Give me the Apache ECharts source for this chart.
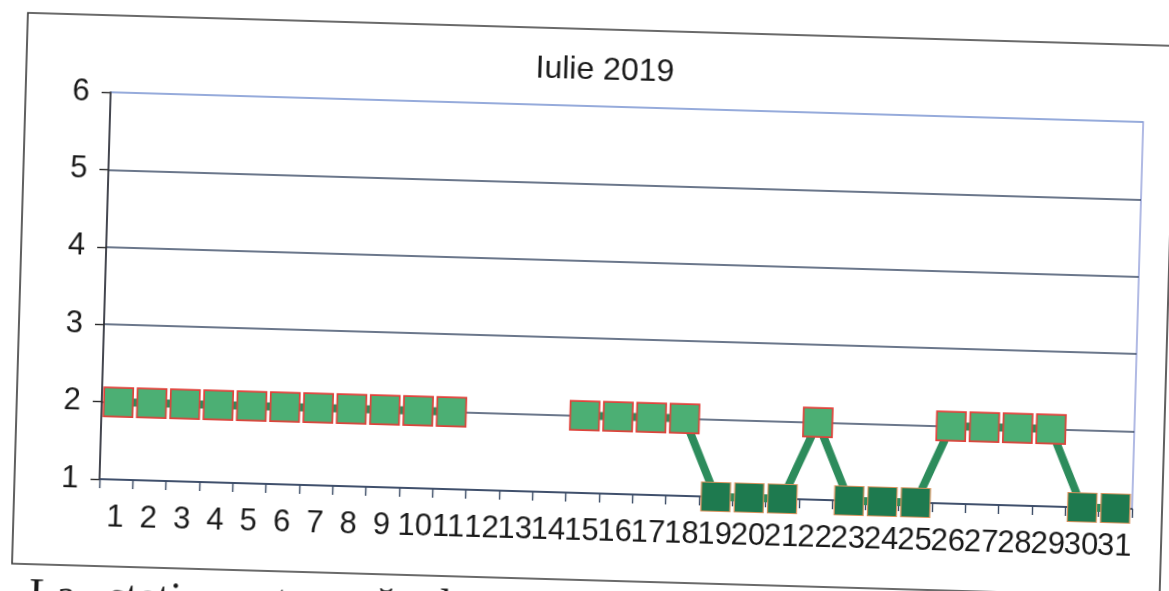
<!DOCTYPE html>
<html>
<head>
<meta charset="utf-8">
<script src="https://cdn.jsdelivr.net/npm/echarts@6/dist/echarts.min.js"></script>
<style>
  html, body { margin: 0; padding: 0; background: #ffffff; overflow: hidden; width: 1169px; height: 591px; }
  #chart { position: absolute; left: -20px; top: -20px; width: 1209px; height: 631px;
           transform: rotate(1.65deg); transform-origin: 50% 50%; }
</style>
</head>
<body>
<div id="chart"></div>
<script>
// ---- data ----
const chartTitle = 'Iulie 2019';
const days = ['1','2','3','4','5','6','7','8','9','10','11','12','13','14','15','16',
              '17','18','19','20','21','22','23','24','25','26','27','28','29','30','31'];
// '-' = no measurement
const values = [2,2,2,2,2,2,2,2,2,2,2,'-','-','-',2,2,2,2,1,1,1,2,1,1,1,2,2,2,2,1,1];
const yTicks = [1, 2, 3, 4, 5, 6];
const captionText = 'La   statie   automată   de   monitorizare';

// ---- styles ----
const lightFill = '#4caf74';
const lightBorder = '#e0413a';
const darkFill = '#1e7a4f';
const darkBorder = '#d8925c';

const seriesData = values.map(v => {
  if (v === '-') return '-';
  const hi = v >= 2;
  return {
    value: v,
    itemStyle: {
      color: hi ? lightFill : darkFill,
      borderColor: hi ? lightBorder : darkBorder,
      borderWidth: hi ? 1.7 : 1.2
    }
  };
});

const chart = echarts.init(document.getElementById('chart'), null, { renderer: 'canvas' });
const font = "'Liberation Sans', Arial, sans-serif";

chart.setOption({
  backgroundColor: '#ffffff',
  animation: false,
  title: {
    text: chartTitle,
    left: 544,
    top: 69,
    textStyle: { fontFamily: font, fontSize: 32, fontWeight: 'normal', color: '#1a1a1a' }
  },
  grid: {
    left: 125, right: 51, top: 126, bottom: 118,
    show: true, borderColor: '#98a4dc', borderWidth: 1.5, backgroundColor: 'transparent'
  },
  xAxis: {
    type: 'category',
    data: days,
    boundaryGap: true,
    axisLine: { show: true, lineStyle: { color: '#3a4a64', width: 1.6 } },
    axisTick: { show: true, inside: false, length: 9, interval: 0, alignWithLabel: false,
                lineStyle: { color: '#3a4a64', width: 1.4 } },
    axisLabel: { interval: 0, margin: 23, fontFamily: font, fontSize: 31, color: '#1a1a1a' },
    splitLine: { show: false }
  },
  yAxis: {
    type: 'value',
    min: yTicks[0],
    max: yTicks[yTicks.length - 1],
    interval: 1,
    axisLine: { show: true, lineStyle: { color: '#2a2a2a', width: 1.6 } },
    axisTick: { show: true, inside: false, length: 9, lineStyle: { color: '#2a2a2a', width: 1.4 } },
    axisLabel: { margin: 21, fontFamily: font, fontSize: 31, color: '#1a1a1a' },
    splitLine: { show: true, lineStyle: { color: ['#3a4a64', '#3a4a64', '#3a4a64', '#3a4a64', '#3a4a64', '#8ea6d8'], width: 1.5 } }
  },
  series: [{
    type: 'line',
    data: seriesData,
    connectNulls: false,
    symbol: 'rect',
    symbolSize: 29,
    showAllSymbol: true,
    lineStyle: { color: '#2d8c5c', width: 8 },
    z: 3
  }],
  graphic: [
    {
      type: 'rect',
      shape: { x: 40, y: 49, width: 1148, height: 551 },
      style: { fill: 'none', stroke: '#3a3a3a', lineWidth: 1.6 },
      silent: true, z: -1
    },
    {
      type: 'text',
      x: 58, y: 610,
      style: { text: captionText, font: "44px 'Liberation Serif', 'Times New Roman', serif", fill: '#1a1a1a',
               textVerticalAlign: 'top' },
      silent: true
    }
  ]
});
</script>
</body>
</html>
